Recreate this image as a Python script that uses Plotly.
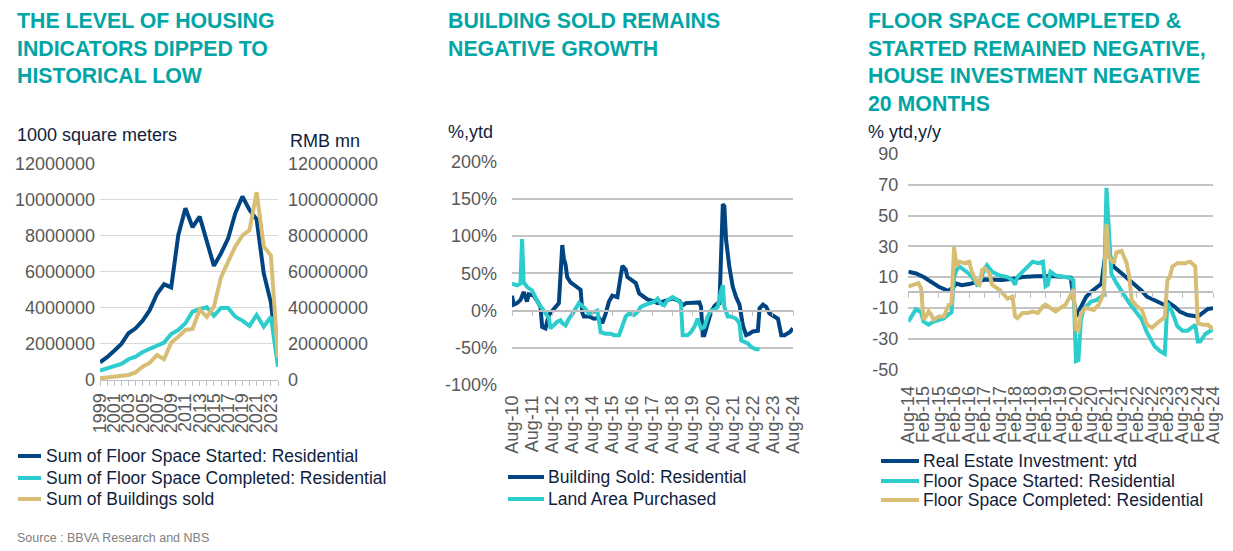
import plotly.graph_objects as go

W, H = 1233, 551
OFF = 8  # the page body adds an 8 px margin; compensate so the picture lines up
FONT = "Liberation Sans, Arial, sans-serif"
NAVY = "#004481"
AQUA = "#2DCCCD"
SAND = "#D8BE75"
TEAL = "#02A5A5"
GRID1 = "#D9D9D9"
GRID2 = "#C4C4C4"
AXISC = "#BFBFBF"
TICKC = "#595959"
TEXTC = "#0F1E3D"

# ---------------- Panel 1: annual levels ----------------
years = list(range(1999, 2025))
started_res = [980000, 1260000, 1620000, 2000000, 2590000, 2860000, 3290000, 3880000,
               4760000, 5300000, 5130000, 8030000, 9510000, 8460000, 9050000, 7660000,
               6320000, 7020000, 7850000, 9230000, 10160000, 9420000, 8900000, 5900000,
               4300000, 950000]
completed_res = [520000, 630000, 740000, 890000, 1150000, 1290000, 1550000, 1740000,
                 1900000, 2070000, 2550000, 2770000, 3140000, 3790000, 3930000, 4030000,
                 3560000, 3990000, 3990000, 3500000, 3290000, 3000000, 3600000, 2950000,
                 3500000, 740000]
buildings_sold = [900000, 1300000, 1700000, 2000000, 2800000, 4200000, 7400000, 9600000,
                  13800000, 11500000, 20700000, 24000000, 27700000, 28300000, 39000000,
                  35000000, 40600000, 57000000, 65500000, 74000000, 80000000, 83000000,
                  104000000, 74000000, 69000000, 12600000]
p1_left_ticks = [0, 2000000, 4000000, 6000000, 8000000, 10000000, 12000000]
p1_left_text = ["0", "2000000", "4000000", "6000000", "8000000", "10000000", "12000000"]
p1_right_ticks = [0, 20000000, 40000000, 60000000, 80000000, 100000000, 120000000]
p1_right_text = ["0", "20000000", "40000000", "60000000", "80000000", "100000000", "120000000"]
p1_names = ["Sum of Floor Space Started: Residential",
            "Sum of Floor Space Completed: Residential",
            "Sum of Buildings sold"]

# ---------------- Panel 2: % ytd ----------------
bs_dates = ["2010-08", "2010-09", "2010-11", "2011-01", "2011-03", "2011-05", "2011-06",
            "2011-09", "2011-11", "2012-01", "2012-02", "2012-04", "2012-06", "2012-08",
            "2012-10", "2012-12", "2013-02", "2013-03", "2013-04", "2013-05", "2013-07",
            "2013-10", "2014-01", "2014-02", "2014-03", "2014-06", "2014-09", "2014-12",
            "2015-02", "2015-04", "2015-06", "2015-08", "2015-11", "2016-01", "2016-02",
            "2016-04", "2016-05", "2016-07", "2016-10", "2016-12", "2017-02", "2017-05",
            "2017-08", "2017-11", "2018-02", "2018-05", "2018-08", "2018-12", "2019-02",
            "2019-04", "2019-08", "2019-12", "2020-01", "2020-02", "2020-03", "2020-05",
            "2020-07", "2020-09", "2020-11", "2020-12", "2021-02", "2021-03", "2021-04",
            "2021-06", "2021-08", "2021-10", "2021-12", "2022-02", "2022-04", "2022-06",
            "2022-08", "2022-11", "2022-12", "2023-02", "2023-04", "2023-06", "2023-08",
            "2023-11", "2024-01", "2024-03", "2024-06", "2024-08"]
bs_vals = [20, 8, 10, 14, 25, 12, 22, 20, 13, 5, -22, -24, -6, 0, 5, 10, 88, 70, 62, 45, 38,
           33, 28, -3, -8, -8, -11, -10, -17, -4, 12, 20, 18, 47, 60, 55, 45, 42, 37, 23,
           20, 15, 13, 10, 12, 14, 16, 13, 7, 10, 11, 11, 5, -33, -33, -16, -2, 6, 10, 8,
           143, 140, 95, 58, 32, 18, 8, -20, -33, -31, -28, -27, 3, 8, 5, -4, -7, -11,
           -33, -33, -29, -24]
lap_dates = ["2010-08", "2010-11", "2011-01", "2011-02", "2011-03", "2011-05", "2011-08",
             "2011-10", "2011-12", "2012-02", "2012-04", "2012-06", "2012-07", "2012-09",
             "2012-11", "2013-01", "2013-02", "2013-04", "2013-06", "2013-08", "2013-10",
             "2013-12", "2014-02", "2014-04", "2014-06", "2014-09", "2014-11", "2015-01",
             "2015-04", "2015-07", "2015-09", "2015-12", "2016-02", "2016-04", "2016-06",
             "2016-09", "2016-11", "2017-01", "2017-03", "2017-06", "2017-09", "2017-11",
             "2018-01", "2018-03", "2018-05", "2018-08", "2018-11", "2019-01", "2019-02",
             "2019-05", "2019-07", "2019-09", "2019-11", "2020-01", "2020-03", "2020-05",
             "2020-07", "2020-09", "2020-11", "2021-01", "2021-02", "2021-03", "2021-05",
             "2021-07", "2021-10", "2021-12", "2022-01", "2022-03", "2022-05", "2022-07",
             "2022-10", "2022-12"]
lap_vals = [36, 34, 36, 96, 38, 32, 27, 18, 9, 3, -4, -10, -24, -20, -15, -13, -17, -20,
            -11, -5, 2, 10, 6, 2, -4, -2, 0, -29, -31, -31, -33, -33, -22, -8, -4, -6, -2,
            5, 7, 9, 12, 16, 9, 7, 14, 18, 14, 9, -33, -33, -29, -22, -11, -24, -22, -8,
            0, 1, 5, 27, 34, 5, -8, -8, -11, -17, -40, -42, -44, -49, -52, -52]
p2_ticks = [-100, -50, 0, 50, 100, 150, 200]
p2_text = ["-100%", "-50%", "0%", "50%", "100%", "150%", "200%"]
p2_names = ["Building Sold: Residential", "Land Area Purchased"]

# ---------------- Panel 3: % ytd, y/y ----------------
rei_dates = ["2014-08", "2014-11", "2015-02", "2015-05", "2015-08", "2015-11", "2015-12",
             "2016-02", "2016-03", "2016-05", "2016-08", "2017-02", "2017-05", "2017-09",
             "2018-02", "2018-05", "2018-10", "2019-04", "2019-10", "2019-12", "2020-02",
             "2020-04", "2020-06", "2020-08", "2020-10", "2020-12", "2021-02", "2021-05",
             "2021-09", "2022-02", "2022-04", "2022-06", "2022-10", "2023-01", "2023-02",
             "2023-05", "2023-07", "2023-10", "2024-02", "2024-04", "2024-06", "2024-08"]
rei_vals = [13.4, 12.3, 10, 7, 3.7, 1.5, 1.2, 4, 5.8, 4.7, 5.4, 8.4, 8.4, 8, 9, 10, 10.5,
            10.6, 10, 9.5, -15.7, -9, -3, 0.4, 3, 5.5, 30, 16.6, 11, 4, 1, -2.8, -6, -8.2,
            -6, -9.3, -12.5, -14.7, -15.7, -13, -10.8, -10.3]
fss_dates = ["2014-08", "2014-10", "2014-11", "2015-01", "2015-02", "2015-04", "2015-06",
             "2015-08", "2015-10", "2015-12", "2016-01", "2016-02", "2016-03", "2016-04",
             "2016-06", "2016-08", "2016-10", "2016-11", "2016-12", "2017-02", "2017-03",
             "2017-05", "2017-08", "2017-11", "2018-01", "2018-02", "2018-03", "2018-05",
             "2018-08", "2018-09", "2018-11", "2019-01", "2019-02", "2019-03", "2019-04",
             "2019-06", "2019-09", "2019-11", "2020-01", "2020-02", "2020-03", "2020-04",
             "2020-05", "2020-08", "2020-10", "2021-01", "2021-02", "2021-03", "2021-04",
             "2021-06", "2021-09", "2021-11", "2022-02", "2022-04", "2022-06", "2022-09",
             "2022-11", "2023-01", "2023-02", "2023-04", "2023-06", "2023-08", "2023-10",
             "2024-01", "2024-02", "2024-03", "2024-05", "2024-08"]
fss_vals = [-19, -13, -11, -13, -19, -21, -19, -18, -17, -14, -13, 10, 14.5, 17, 14.5, 12,
            8, 5, 6, 15.6, 17.7, 13.4, 11, 10, 8, 5, 10, 13.4, 17.7, 20, 19, 20, 4, 5, 13.4,
            11, 10, 10, 8, -44.6, -44, -17.7, -11, -6, -5, -1.6, 68, 36, 12, 6, -1.6, -7,
            -13.4, -17.7, -26, -35, -38, -40, -7, -13, -22, -25, -25, -21, -32, -32, -27, -24]
fsc_dates = ["2014-08", "2014-10", "2014-12", "2015-01", "2015-02", "2015-03", "2015-04",
             "2015-05", "2015-06", "2015-08", "2015-10", "2015-12", "2016-01", "2016-02",
             "2016-03", "2016-04", "2016-06", "2016-08", "2016-09", "2016-11", "2016-12",
             "2017-01", "2017-02", "2017-04", "2017-05", "2017-08", "2017-09", "2017-11",
             "2018-01", "2018-02", "2018-03", "2018-05", "2018-07", "2018-09", "2018-11",
             "2019-01", "2019-02", "2019-04", "2019-06", "2019-08", "2019-10", "2020-01",
             "2020-02", "2020-03", "2020-04", "2020-06", "2020-09", "2020-11", "2021-01",
             "2021-02", "2021-03", "2021-05", "2021-06", "2021-08", "2021-10", "2021-11",
             "2021-12", "2022-02", "2022-04", "2022-06", "2022-08", "2022-10", "2023-01",
             "2023-02", "2023-03", "2023-04", "2023-06", "2023-09", "2023-11", "2024-01",
             "2024-02", "2024-04", "2024-06", "2024-08"]
fsc_vals = [3.8, 5, 6, 2.7, -17.7, -15.6, -12.4, -14.5, -17.7, -15.6, -15.6, -8, -7, 29.6,
            17, 20, 19, 20, 13.4, 6, 5, 14.5, 15.6, 12.4, 5, 1.6, -0.5, -4, -2.7, -15.6,
            -16.7, -13.4, -13.4, -12.4, -13.4, -9, -8, -10, -12.4, -10, -8, 2, -24, -25,
            -13.4, -10, -11.4, -8, 0, 44.6, 23, 19, 26, 27, 19, 10, -5, -9, -11.4, -21, -23,
            -20, -16, 8, 10, 16.7, 19, 19, 20, 17, -20, -21, -21, -24]
p3_ticks = [-50, -30, -10, 10, 30, 50, 70, 90]
p3_text = ["-50", "-30", "-10", "10", "30", "50", "70", "90"]
p3_names = ["Real Estate Investment: ytd", "Floor Space Started: Residential",
            "Floor Space Completed: Residential"]

titles = ["THE LEVEL OF HOUSING<br>INDICATORS DIPPED TO<br>HISTORICAL LOW",
          "BUILDING SOLD REMAINS<br>NEGATIVE GROWTH",
          "FLOOR SPACE COMPLETED &<br>STARTED REMAINED NEGATIVE,<br>HOUSE INVESTMENT NEGATIVE<br>20 MONTHS"]
source_text = "Source : BBVA Research and NBS"


def px(x):
    return (x - OFF) / W


def py(y):
    return 1 - (y - OFF) / H


LW = 4
fig = go.Figure()
# panel 1
fig.add_trace(go.Scatter(x=years, y=started_res, mode="lines", name=p1_names[0],
                         line=dict(color=NAVY, width=LW), xaxis="x", yaxis="y"))
fig.add_trace(go.Scatter(x=years, y=completed_res, mode="lines", name=p1_names[1],
                         line=dict(color=AQUA, width=LW), xaxis="x", yaxis="y"))
fig.add_trace(go.Scatter(x=years, y=buildings_sold, mode="lines", name=p1_names[2],
                         line=dict(color=SAND, width=LW), xaxis="x", yaxis="y2"))
# panel 2
fig.add_trace(go.Scatter(x=bs_dates, y=bs_vals, mode="lines", name=p2_names[0],
                         line=dict(color=NAVY, width=LW), xaxis="x2", yaxis="y3"))
fig.add_trace(go.Scatter(x=lap_dates, y=lap_vals, mode="lines", name=p2_names[1],
                         line=dict(color=AQUA, width=LW), xaxis="x2", yaxis="y3"))
# panel 3
fig.add_trace(go.Scatter(x=rei_dates, y=rei_vals, mode="lines", name=p3_names[0],
                         line=dict(color=NAVY, width=LW), xaxis="x3", yaxis="y4"))
fig.add_trace(go.Scatter(x=fss_dates, y=fss_vals, mode="lines", name=p3_names[1],
                         line=dict(color=AQUA, width=LW), xaxis="x3", yaxis="y4"))
fig.add_trace(go.Scatter(x=fsc_dates, y=fsc_vals, mode="lines", name=p3_names[2],
                         line=dict(color=SAND, width=LW), xaxis="x3", yaxis="y4"))
# empty helper traces so the zero-level axes are drawn
fig.add_trace(go.Scatter(x=[bs_dates[0]], y=[None], xaxis="x4", yaxis="y3", hoverinfo="skip"))
fig.add_trace(go.Scatter(x=[rei_dates[0]], y=[None], xaxis="x5", yaxis="y4", hoverinfo="skip"))

tickfont = dict(family=FONT, size=18, color=TICKC)

# plot-area pixel boxes (screen pixels)
P1 = dict(l=100, r=278, t=163.3, b=380)
P2 = dict(l=512, r=793, t=161.7, b=385)
P3 = dict(l=908.3, r=1213, t=154, b=369.3)

p2_zero = py(P2["b"] - (0 - p2_ticks[0]) / (p2_ticks[-1] - p2_ticks[0]) * (P2["b"] - P2["t"]))
p3_zero = py(P3["b"] - (0 - p3_ticks[0]) / (p3_ticks[-1] - p3_ticks[0]) * (P3["b"] - P3["t"]))

fig.update_layout(
    width=W, height=H, margin=dict(l=0, r=0, t=0, b=0, pad=0, autoexpand=False),
    paper_bgcolor="white", plot_bgcolor="white", showlegend=False,
    font=dict(family=FONT, size=18, color=TEXTC),
    xaxis=dict(domain=[px(P1["l"]), px(P1["r"])], anchor="y", range=[years[0], years[-1]],
               tickvals=years, ticktext=[str(y) if (y - years[0]) % 2 == 0 else "" for y in years],
               tickangle=-90, ticks="outside", ticklen=5, tickcolor=AXISC, showline=True,
               linecolor=AXISC, linewidth=1, showgrid=False, zeroline=False, tickfont=tickfont,
               ticklabelstandoff=0, automargin=False),
    yaxis=dict(domain=[py(P1["b"]), py(P1["t"])], anchor="x", range=[0, 12000000],
               tickvals=p1_left_ticks, ticktext=p1_left_text, gridcolor=GRID1, gridwidth=1,
               zeroline=False, showline=False, ticks="", tickfont=tickfont, ticklabelstandoff=4,
               automargin=False),
    yaxis2=dict(overlaying="y", side="right", anchor="x", range=[0, 120000000],
                tickvals=p1_right_ticks, ticktext=p1_right_text, showgrid=False,
                zeroline=False, showline=False, ticks="", tickfont=tickfont, ticklabelstandoff=9,
                automargin=False),
    xaxis2=dict(domain=[px(P2["l"]), px(P2["r"])], anchor="y3", type="date",
                range=["2010-08-01", "2024-08-01"], tick0="2010-08-01", dtick="M12",
                tickformat="%b-%y", tickangle=-90, ticks="", showline=False, showgrid=False,
                zeroline=False, tickfont=tickfont, ticklabelstandoff=6, automargin=False),
    yaxis3=dict(domain=[py(P2["b"]), py(P2["t"])], anchor="x2", range=[-100, 200],
                tickvals=p2_ticks, ticktext=p2_text, gridcolor=GRID2, gridwidth=1.5,
                zeroline=False, showline=False, ticks="", tickfont=tickfont, ticklabelstandoff=14,
                automargin=False),
    xaxis4=dict(overlaying="x2", anchor="free", position=p2_zero, type="date",
                range=["2010-08-01", "2024-08-01"], tick0="2010-08-01", dtick="M12",
                ticks="outside", ticklen=5, tickcolor=AXISC, showticklabels=False,
                showline=True, linecolor=AXISC, linewidth=1.5, showgrid=False, zeroline=False,
                automargin=False),
    xaxis3=dict(domain=[px(P3["l"]), px(P3["r"])], anchor="y4", type="date",
                range=["2014-08-01", "2024-08-01"], tick0="2014-08-01", dtick="M6",
                tickformat="%b-%y", tickangle=-90, ticks="", showline=False, showgrid=False,
                zeroline=False, tickfont=tickfont, ticklabelstandoff=12, automargin=False),
    yaxis4=dict(domain=[py(P3["b"]), py(P3["t"])], anchor="x3", range=[-50, 90],
                tickvals=p3_ticks, ticktext=p3_text, gridcolor=GRID2, gridwidth=1.5,
                zeroline=False, showline=False, ticks="", tickfont=tickfont, ticklabelstandoff=9,
                automargin=False),
    xaxis5=dict(overlaying="x3", anchor="free", position=p3_zero, type="date",
                range=["2014-08-01", "2024-08-01"], tick0="2014-08-01", dtick="M6",
                ticks="outside", ticklen=5, tickcolor=AXISC, showticklabels=False,
                showline=True, linecolor=AXISC, linewidth=1.5, showgrid=False, zeroline=False,
                automargin=False),
)

ann = []
# titles
for tx, t in zip([15, 446, 866], titles):
    ann.append(dict(x=px(tx), y=py(7), xref="paper", yref="paper", xanchor="left",
                    yanchor="top", align="left", showarrow=False, text="<b>" + t + "</b>",
                    font=dict(family=FONT, size=21.3, color=TEAL)))
# unit labels
for tx, ty, t in [(15, 135, "1000 square meters"), (288, 141, "RMB mn"),
                  (446, 132, "%,ytd"), (866, 132, "% ytd,y/y")]:
    ann.append(dict(x=px(tx), y=py(ty), xref="paper", yref="paper", xanchor="left",
                    yanchor="middle", showarrow=False, text=t,
                    font=dict(family=FONT, size=18, color=TEXTC)))

# legends (drawn as line samples + labels)
shapes = []
legend_specs = [
    (18, 41, 44, [456, 478, 499], p1_names, [NAVY, AQUA, SAND]),
    (508, 544, 546, [477, 499], p2_names, [NAVY, AQUA]),
    (881, 919, 921, [461, 481, 500], p3_names, [NAVY, AQUA, SAND]),
]
for x0, x1, xt, rows, names, cols in legend_specs:
    for yy, nm, c in zip(rows, names, cols):
        shapes.append(dict(type="line", xref="paper", yref="paper", x0=px(x0), x1=px(x1),
                           y0=py(yy), y1=py(yy), line=dict(color=c, width=4)))
        ann.append(dict(x=px(xt), y=py(yy), xref="paper", yref="paper", xanchor="left",
                        yanchor="middle", showarrow=False, text=nm,
                        font=dict(family=FONT, size=17.5, color=TEXTC)))
ann.append(dict(x=px(15), y=py(538), xref="paper", yref="paper", xanchor="left",
                yanchor="middle", showarrow=False, text=source_text,
                font=dict(family=FONT, size=12.5, color="#808080")))

fig.update_layout(annotations=ann, shapes=shapes)
fig.write_html("out.html")
